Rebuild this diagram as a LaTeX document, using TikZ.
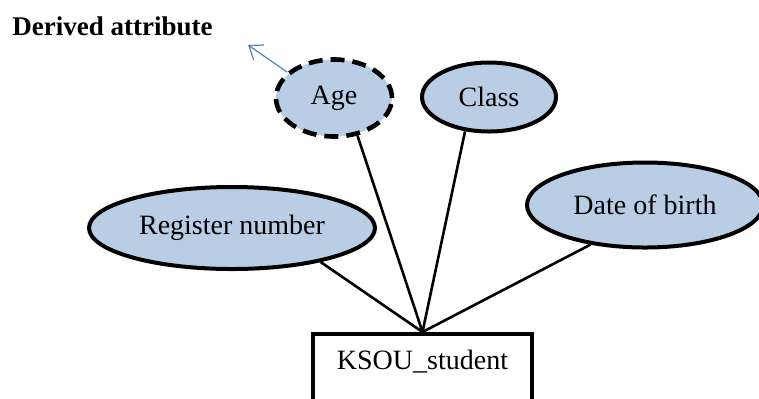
\documentclass[tikz,border=0pt]{standalone}
\usepackage{fontspec}
\setmainfont{Liberation Serif}
\usepackage{xcolor}
\usepackage{tikz}
\usetikzlibrary{shapes.geometric}
\usetikzlibrary{arrows.meta}
\definecolor{attrblue}{RGB}{185,205,229}
\definecolor{notearrow}{RGB}{79,129,189}
\tikzset{%
  attrib/.style={ellipse,draw=black,fill=attrblue,line width=2pt,inner sep=0pt,font=\fontsize{14}{16}\selectfont}
}
\tikzset{%
  derived/.style={attrib,line width=2.3pt,dash pattern=on 7pt off 4pt}
}
\tikzset{%
  entitybox/.style={rectangle,draw=black,line width=2pt,inner sep=0pt,minimum width=109.5pt,text height=17.5pt,text depth=60pt,font=\fontsize{14}{16}\selectfont}
}
\tikzset{%
  link/.style={line width=1.3pt}
}

\begin{document}
\begin{tikzpicture}[x=0.5pt,y=-0.5pt]
  \useasboundingbox (0,0) rectangle (759,398);
  \clip (0,0) rectangle (759,398);
  \node[derived,minimum width=58pt,minimum height=38.5pt](age) at (334,98){Age};
  \node[attrib,minimum width=67pt,minimum height=34.5pt](class) at (489,97){Class};
  \node[attrib,minimum width=143pt,minimum height=41pt](regno) at (232,228){Register number};
  \node[attrib,minimum width=118pt,minimum height=42.5pt](dob) at (645,205){Date of birth};
  \node[entitybox,anchor=north](student) at (422.5,332){KSOU\_student};

  \draw[link] (age.-58.6) -- (student.north);
  \draw[link] (class.-125) -- (student.north);
  \draw[link] (regno.-21.7) -- (student.north);
  \draw[link] (dob.-144.7) -- (student.north);

  \node[anchor=base west,inner sep=0pt,font=\fontsize{13.5}{16}\selectfont\bfseries](dernote) at (12,35){Derived attribute};
  \coordinate (notetip) at (248,45);
  \draw[notearrow,line width=0.6pt,-{Straight Barb[length=6pt,width=9pt]}] (age.151) -- (notetip);
\end{tikzpicture}
\end{document}
